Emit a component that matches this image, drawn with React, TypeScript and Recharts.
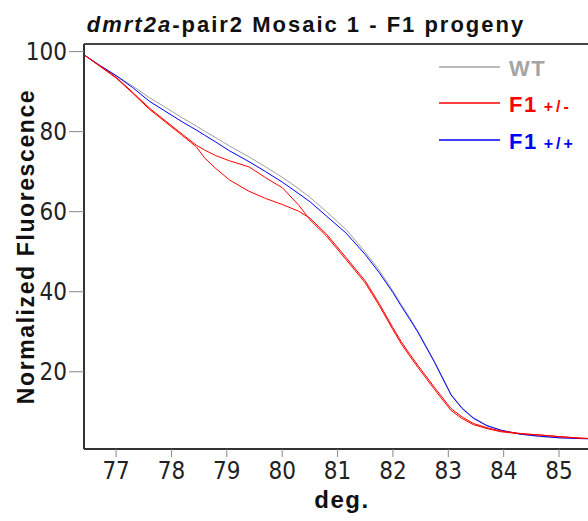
import { LineChart, Line, XAxis, YAxis, ReferenceLine, Label } from 'recharts';

// melt curve temperatures (deg.)
const temps = [
  76.42, 76.7, 77.0, 77.3, 77.6, 77.9, 78.2, 78.45, 78.6, 78.8, 79.05, 79.4,
  79.7, 80.0, 80.3, 80.5, 80.8, 81.15, 81.5, 81.75, 82.0, 82.15, 82.3, 82.45,
  82.75, 83.05, 83.25, 83.45, 83.7, 83.95, 84.3, 84.65, 85.0, 85.4, 85.74,
];

const wt = [
  99.2, 96.6, 94.0, 91.4, 88.5, 86.0, 83.4, 81.4, 80.1, 78.5, 76.4, 73.7,
  71.2, 68.6, 65.7, 63.6, 60.0, 55.6, 49.9, 45.4, 40.2, 36.8, 33.6, 30.2,
  22.6, 14.4, 11.0, 8.6, 6.6, 5.4, 4.4, 3.8, 3.5, 3.3, 3.2,
];

const homo = [
  99.2, 96.6, 94.0, 91.0, 87.6, 85.0, 82.4, 80.4, 79.1, 77.4, 75.2, 72.5,
  70.0, 67.4, 64.5, 62.5, 58.9, 54.7, 49.3, 44.8, 39.8, 36.4, 33.2, 29.9,
  22.4, 14.2, 10.8, 8.4, 6.5, 5.4, 4.4, 3.9, 3.5, 3.3, 3.2,
];

const het1 = [
  99.2, 96.5, 93.6, 89.8, 85.9, 82.6, 79.3, 76.6, 75.4, 74.0, 72.7, 71.2,
  68.5, 66.0, 61.6, 58.0, 53.9, 48.1, 42.2, 36.6, 30.5, 27.0, 24.0, 21.1,
  15.6, 10.3, 8.3, 6.8, 5.8, 5.0, 4.5, 4.2, 3.8, 3.4, 3.2,
];

const het2 = [
  99.2, 96.4, 93.4, 89.6, 85.6, 82.3, 79.0, 76.2, 73.4, 70.8, 67.9, 65.1,
  63.3, 61.8, 60.1, 58.4, 54.4, 48.6, 42.7, 37.1, 31.0, 27.5, 24.5, 21.6,
  16.1, 10.8, 8.7, 7.1, 6.0, 5.2, 4.6, 4.2, 3.8, 3.4, 3.2,
];

const xTicks = [77, 78, 79, 80, 81, 82, 83, 84, 85];
const yTicks = [20, 40, 60, 80, 100];

const data = temps.map((t, i) => ({ t, wt: wt[i], homo: homo[i], het1: het1[i], het2: het2[i] }));

const GRAY = '#a0a0a0';
const RED = '#ff0000';
const BLUE = '#0000ff';
const BOLD = '"Liberation Sans", Arial, sans-serif';
const TICK_FONT = '"Liberation Sans Narrow", "Arial Narrow", "DejaVu Sans Condensed", sans-serif';

const tickStyle = { fill: '#222', fontSize: 24, fontFamily: TICK_FONT };

const legendItems = [
  { name: 'WT', sub: '', color: '#a5a5a5', y: 67 },
  { name: 'F1', sub: '+/-', color: RED, y: 103 },
  { name: 'F1', sub: '+/+', color: BLUE, y: 140 },
];

export default function App() {
  return (
    <div style={{ position: 'absolute', left: 0, top: 0, width: 588, height: 521, overflow: 'hidden', background: '#fff' }}>
      <LineChart width={600} height={521} data={data} margin={{ top: 44, right: 0, left: 0, bottom: 0 }}>
        <XAxis
          dataKey="t"
          type="number"
          domain={[76.42, 85.74]}
          ticks={xTicks}
          allowDataOverflow
          height={72}
          stroke="#333"
          axisLine={{ stroke: '#333', strokeWidth: 2 }}
          tickLine={{ stroke: '#888' }}
          tickSize={8}
          tickMargin={5}
          tick={tickStyle}
        >
          <Label
            content={({ viewBox }: any) => (
              <text x={viewBox.x + viewBox.width / 2} y={508} textAnchor="middle" fontFamily={BOLD} fontWeight="bold" fontSize={24} letterSpacing={1.5} fill="#111">
                deg.
              </text>
            )}
          />
        </XAxis>
        <YAxis
          type="number"
          domain={[0.7, 101.9]}
          ticks={yTicks}
          allowDataOverflow
          width={84}
          axisLine={{ stroke: '#333', strokeWidth: 2 }}
          tickLine={{ stroke: '#888' }}
          tickSize={15}
          tickMargin={2}
          tick={tickStyle}
        >
          <Label
            content={({ viewBox }: any) => {
              const cy = viewBox.y + viewBox.height / 2;
              return (
                <text x={34} y={cy} transform={`rotate(-90, 34, ${cy})`} textAnchor="middle" fontFamily={BOLD} fontWeight="bold" fontSize={23} letterSpacing={1.6} fill="#111">
                  Normalized Fluorescence
                </text>
              );
            }}
          />
        </YAxis>
        <ReferenceLine y={101.9} stroke="#444" strokeWidth={2} />
        <Line type="linear" dataKey="wt" stroke={GRAY} strokeWidth={1} dot={false} isAnimationActive={false} />
        <Line type="linear" dataKey="homo" stroke={BLUE} strokeWidth={1} dot={false} isAnimationActive={false} />
        <Line type="linear" dataKey="het1" stroke={RED} strokeWidth={1} dot={false} isAnimationActive={false} />
        <Line type="linear" dataKey="het2" stroke={RED} strokeWidth={1} dot={false} isAnimationActive={false} />
      </LineChart>
      <svg width={588} height={521} style={{ position: 'absolute', left: 0, top: 0, pointerEvents: 'none' }}>
        <text x={306} y={32} textAnchor="middle" fontFamily={BOLD} fontWeight="bold" fontSize={22} letterSpacing={2} fill="#111">
          <tspan fontStyle="italic">dmrt2a</tspan>-pair2 Mosaic 1 - F1 progeny
        </text>
        {legendItems.map((it) => (
          <g key={it.sub || it.name}>
            <line x1={439} x2={500} y1={it.y} y2={it.y} stroke={it.color} strokeWidth={1.5} />
            <text x={509} y={it.y + 9} fontFamily={BOLD} fontWeight="bold" fontSize={22} letterSpacing={1.5} fill={it.color}>
              {it.name}
              {it.sub && <tspan fontSize={16} letterSpacing={3} dx={6}>{it.sub}</tspan>}
            </text>
          </g>
        ))}
      </svg>
    </div>
  );
}
